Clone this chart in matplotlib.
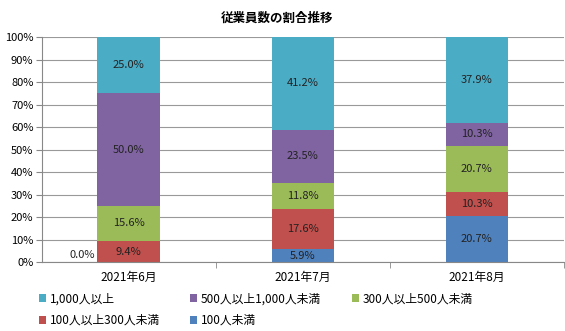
import matplotlib.pyplot as plt
import numpy as np

plt.rcParams['font.family'] = ['Noto Sans CJK JP', 'DejaVu Sans']

months = ['2021年6月', '2021年7月', '2021年8月']
series = ['100人未満', '100人以上300人未満', '300人以上500人未満',
          '500人以上1,000人未満', '1,000人以上']
colors = ['#4F81BD', '#C0504D', '#9BBB59', '#8064A2', '#4BACC6']
under100 = [0.0, 5.9, 20.7]
r100_300 = [9.4, 17.6, 10.3]
r300_500 = [15.6, 11.8, 20.7]
r500_1000 = [50.0, 23.5, 10.3]
over1000 = [25.0, 41.2, 37.9]
values = [under100, r100_300, r300_500, r500_1000, over1000]

fig = plt.figure(figsize=(5.65, 3.31), dpi=100)
ax = fig.add_axes([0.074, 0.208, 0.924, 0.68])

x = np.arange(len(months))
bottom = np.zeros(len(months))
handles = []
for name, vals, c in zip(series, values, colors):
    vals = np.array(vals)
    b = ax.bar(x, vals, 0.36, bottom=bottom, color=c, label=name, zorder=2)
    handles.append(b)
    for i, v in enumerate(vals):
        if v > 0:
            ax.text(x[i], bottom[i] + v / 2, f'{v:.1f}%', ha='center', va='center',
                    fontsize=8, color='#222222', zorder=3)
        else:
            ax.text(x[i] - 0.27, bottom[i] + 3, f'{v:.1f}%', ha='center', va='center',
                    fontsize=8, color='#222222', zorder=3)
    bottom += vals

ax.set_xlim(-0.5, 2.5)
ax.set_ylim(0, 100)
ax.set_yticks(range(0, 101, 10))
ax.set_yticklabels([f'{t}%' for t in range(0, 101, 10)], fontsize=8)
ax.set_xticks(x)
ax.set_xticklabels(months, fontsize=8.5)
ax.tick_params(axis='x', length=0, pad=6)
ax.set_xticks([0.5, 1.5, 2.5], minor=True)
ax.tick_params(axis='x', which='minor', length=4, color='#888888')
ax.tick_params(axis='y', length=4, color='#888888', pad=2)
ax.grid(axis='y', color='#999999', linewidth=0.8, zorder=0)
for s in ['top', 'right']:
    ax.spines[s].set_visible(False)
for s in ['left', 'bottom']:
    ax.spines[s].set_color('#888888')

fig.text(0.49, 0.945, '従業員数の割合推移', ha='center', va='center',
         fontsize=9, fontweight='bold')

# legend row-major: 1,000 / 500 / 300 then 100-300 / 100
order = [4, 1, 3, 0, 2]
fig.legend([handles[i] for i in order], [series[i] for i in order],
           loc='lower left', bbox_to_anchor=(0.05, -0.02), ncol=3, frameon=False,
           fontsize=8.5, handlelength=0.6, handleheight=0.6, handletextpad=0.3,
           columnspacing=2.6, labelspacing=0.75)

fig.savefig('out.png', dpi=100)
